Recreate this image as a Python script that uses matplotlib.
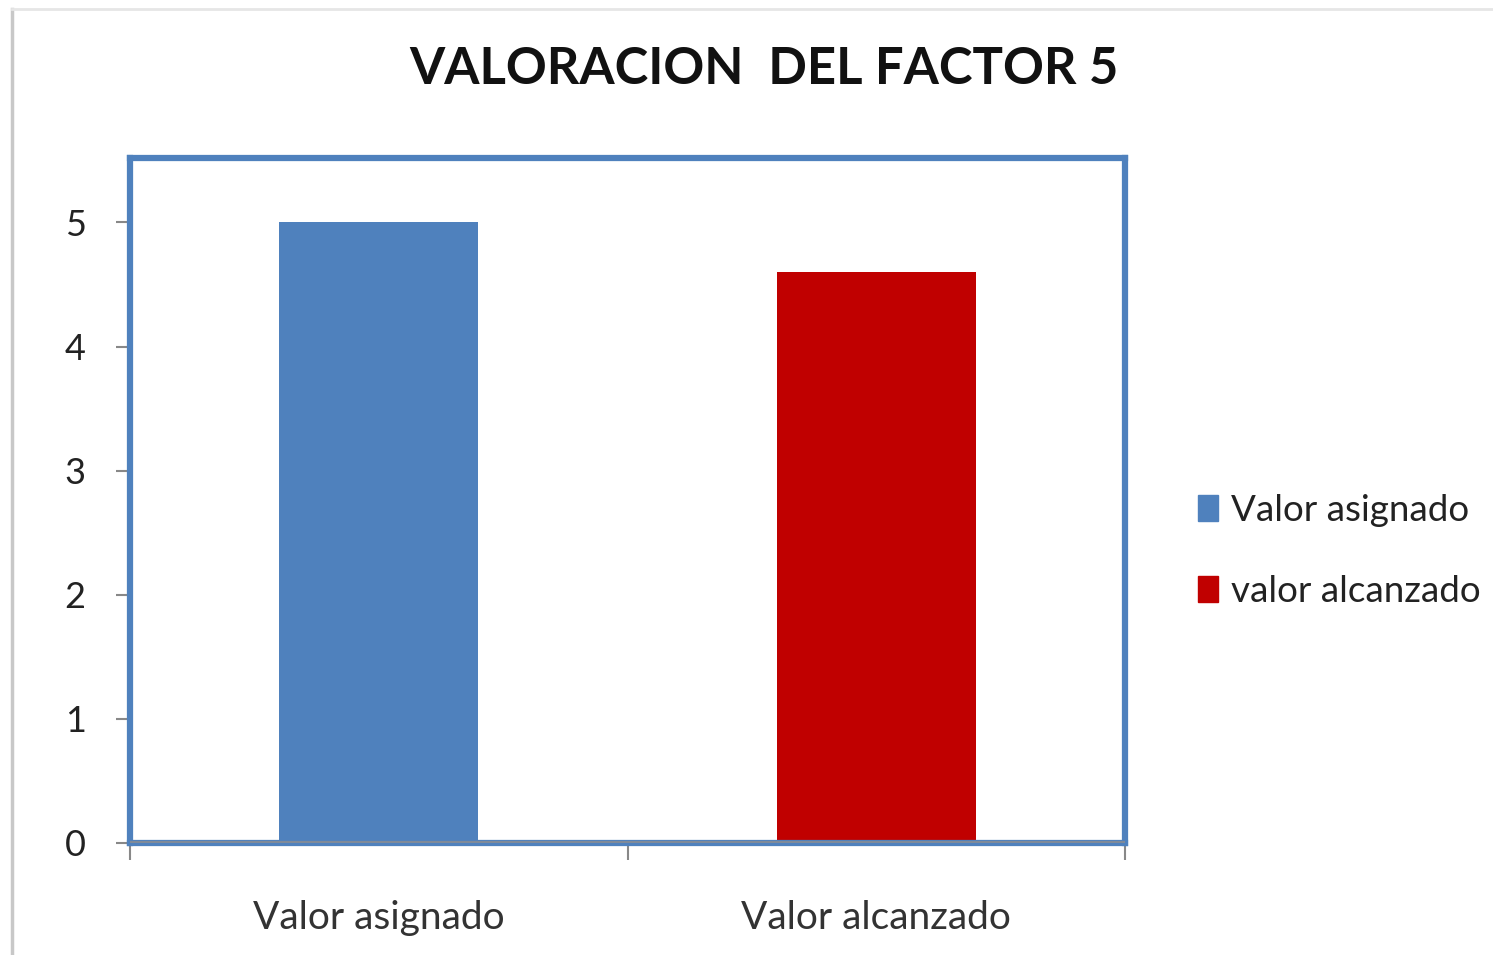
import matplotlib.pyplot as plt
from matplotlib.lines import Line2D
from matplotlib.patches import Patch

# Data
categories = ['Valor asignado', 'Valor alcanzado']
series_names = ['Valor asignado', 'valor alcanzado']
values = [5.0, 4.6]
colors = ['#4F81BD', '#C00000']
yticks = [0, 1, 2, 3, 4, 5]

plt.rcParams['font.family'] = ['Lato', 'DejaVu Sans']

fig = plt.figure(figsize=(14.93, 9.55), dpi=100)
ax = fig.add_axes([0.0871, 0.1173, 0.6665, 0.7173])

x = list(range(len(categories)))
ax.bar(x, values, width=0.4, color=colors, zorder=2)

ax.set_xlim(-0.5, len(categories) - 0.5)
ax.set_ylim(0, 5.52)
ax.set_yticks(yticks)
ax.set_yticklabels([str(t) for t in yticks], fontsize=26, color='#222222')
ax.set_xticks(x)
ax.set_xticklabels(categories, fontsize=28, color='#333333')
ax.tick_params(axis='x', length=0, pad=41)
ax.tick_params(axis='y', length=10, width=1.5, color='#888888', pad=22)

# minor ticks on category boundaries
ax.set_xticks([-0.5, 0.5, 1.5], minor=True)
ax.tick_params(axis='x', which='minor', length=12, width=1.5, color='#888888')

for s in ax.spines.values():
    s.set_color('#4F81BD')
    s.set_linewidth(4.5)
ax.axhline(0, color='#7f8a99', lw=3, zorder=3)

fig.suptitle('VALORACION  DEL FACTOR 5', fontsize=36.5, fontweight='bold',
             x=0.512, y=0.952, color='#111111')

handles = [Patch(color=c) for c in colors]
fig.legend(handles, series_names, loc='center left', bbox_to_anchor=(0.780, 0.423),
           frameon=False, fontsize=26.5, handlelength=0.55, handleheight=0.7,
           handletextpad=0.35, labelspacing=1.3, labelcolor='#222222')

# outer frame of the picture
fig.add_artist(Line2D([0.008, 0.008], [0.0, 0.991], color='#c8c8c8', lw=2.5, transform=fig.transFigure))
fig.add_artist(Line2D([0.008, 1.0], [0.991, 0.991], color='#e6e6e6', lw=2, transform=fig.transFigure))

fig.savefig('out.png', dpi=100)
